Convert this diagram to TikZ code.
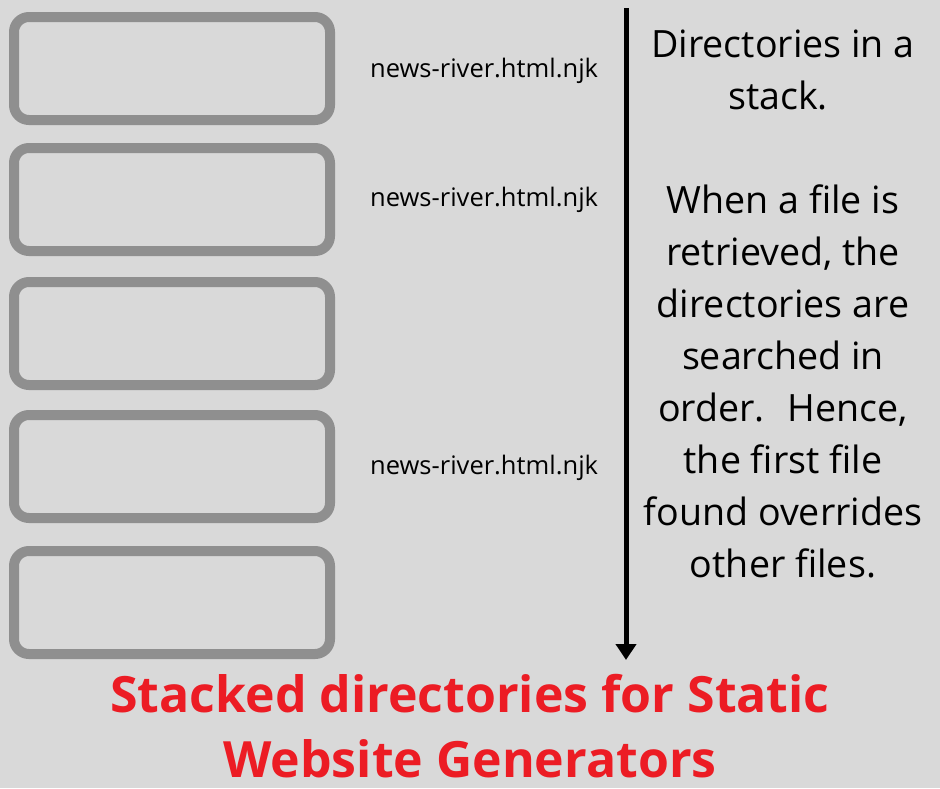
\documentclass[tikz,border=0pt]{standalone}
\usepackage{fontspec}
\setmainfont{Open Sans}
\usetikzlibrary{arrows.meta}
\definecolor{bg}{HTML}{D9D9D9}
\definecolor{boxgray}{HTML}{8F8F8F}
\definecolor{titlered}{HTML}{EC1C24}
\begin{document}
\begin{tikzpicture}[x=1pt,y=-1pt,
  dirbox/.style={draw=boxgray, line width=10pt, rounded corners=15pt},
  fname/.style={anchor=base west, inner sep=0pt, font=\fontsize{25.5}{30}\selectfont},
]
\fill[bg] (0,0) rectangle (940,788);
\useasboundingbox (0,0) rectangle (940,788);
% directory boxes
\draw[dirbox] (14,17) rectangle (330,120);
\draw[dirbox] (14,148) rectangle (330,251);
\draw[dirbox] (14,282) rectangle (330,385);
\draw[dirbox] (14,415) rectangle (330,518);
\draw[dirbox] (14,551) rectangle (330,654);
% file names
\node[fname] (f1) at (370,77) {news-river.html.njk};
\node[fname] (f2) at (370,206) {news-river.html.njk};
\node[fname] (f4) at (370,474) {news-river.html.njk};
% arrow
\coordinate (atop) at (626,8);
\coordinate (abot) at (626,660);
\draw[line width=5pt, -{Triangle[width=20pt,length=16pt]}] (atop) -- (abot);
% explanation
\node[anchor=north, inner sep=0pt, align=center,
  font=\fontsize{37.6}{52}\selectfont] (expl) at (783,29.5)
  {Directories in a\\ stack.\kern10pt\\[52pt] When a file is\\ retrieved, the\\ directories are\\ searched in\\ order.~ Hence,\\ the first file\\ found overrides\\ other files.};
% title
\node[anchor=base, inner sep=0pt, text=titlered,
  font=\bfseries\fontsize{50}{65}\selectfont] (title) at (470,712)
  {Stacked directories for Static};
\node[anchor=base, inner sep=0pt, text=titlered,
  font=\bfseries\fontsize{50}{65}\selectfont] (title2) at (470,777)
  {Website Generators};
\end{tikzpicture}
\end{document}
